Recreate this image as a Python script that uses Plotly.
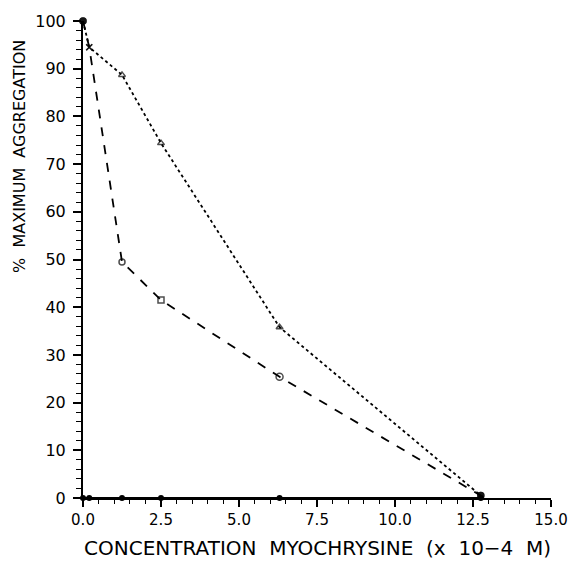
import plotly.graph_objects as go

# Data
conc = [0.0, 0.2, 1.25, 2.5, 6.3, 12.75]
dotted_agg = [100, 94.5, 88.7, 74.4, 35.8, 0.5]
dashed_agg = [100, 94.5, 49.5, 41.5, 25.4, 0.5]
baseline_agg = [0, 0, 0, 0, 0, 0]

x_ticks = [0, 2.5, 5, 7.5, 10, 12.5, 15]
x_tick_text = ["0.0", "2.5", "5.0", "7.5", "10.0", "12.5", "15.0"]
y_ticks = [0, 10, 20, 30, 40, 50, 60, 70, 80, 90, 100]

x_title = "CONCENTRATION  MYOCHRYSINE  (x  10\u22124  M)"
y_title = "%  MAXIMUM  AGGREGATION"

FONT = "DejaVu Sans"

fig = go.Figure()

fig.add_trace(go.Scatter(
    x=conc, y=dotted_agg, mode="lines+markers",
    line=dict(color="black", width=1.8, dash="dot"),
    marker=dict(symbol=["circle", "x-thin-open", "triangle-up-open", "triangle-up-open",
                        "triangle-up-open", "circle"],
                size=[6, 6, 6, 6, 6, 6], color="black",
                line=dict(color="black", width=1.5)),
    cliponaxis=False, showlegend=False))

fig.add_trace(go.Scatter(
    x=conc, y=dashed_agg, mode="lines+markers",
    line=dict(color="black", width=1.8, dash="9px,9px"),
    marker=dict(symbol=["circle", "x-thin-open", "circle-open", "square-open",
                        "circle-open", "circle"],
                size=[6, 6, 6, 6, 7, 6], color="black",
                line=dict(color="black", width=1.5)),
    cliponaxis=False, showlegend=False))

fig.add_trace(go.Scatter(
    x=conc, y=baseline_agg, mode="lines+markers",
    line=dict(color="black", width=2),
    marker=dict(symbol="circle", size=6, color="black"),
    cliponaxis=False, showlegend=False))

fig.update_layout(
    width=580, height=561,
    margin=dict(l=83, r=22, t=21, b=63),
    paper_bgcolor="white", plot_bgcolor="white",
    font=dict(family=FONT, color="black", size=15),
    xaxis=dict(
        range=[0, 15], tickvals=x_ticks, ticktext=x_tick_text,
        showgrid=False, zeroline=False, showline=True, linecolor="black", linewidth=2,
        ticks="outside", ticklen=7, tickwidth=1.5, tickcolor="black",
        minor=dict(dtick=0.5, ticks="outside", ticklen=4, tickwidth=1.2, tickcolor="black"),
        tickfont=dict(size=15, family=FONT, color="black"),
    ),
    yaxis=dict(
        range=[0, 100], tickvals=y_ticks,
        showgrid=False, zeroline=False, showline=True, linecolor="black", linewidth=2,
        ticks="outside", ticklen=8, tickwidth=1.5, tickcolor="black",
        minor=dict(dtick=2, ticks="outside", ticklen=5, tickwidth=1.2, tickcolor="black"),
        tickfont=dict(size=16, family=FONT, color="black"), ticklabelstandoff=4,
    ),
    annotations=[
        dict(text=x_title, xref="paper", yref="paper", x=0.5, y=0,
             yshift=-50, xanchor="center", yanchor="middle", showarrow=False,
             font=dict(size=20, family=FONT, color="black")),
        dict(text=y_title, xref="paper", yref="paper", x=0, y=0.715,
             xshift=-63, xanchor="center", yanchor="middle", textangle=-90,
             showarrow=False, font=dict(size=16, family=FONT, color="black")),
    ],
)

fig.write_html("out.html")
